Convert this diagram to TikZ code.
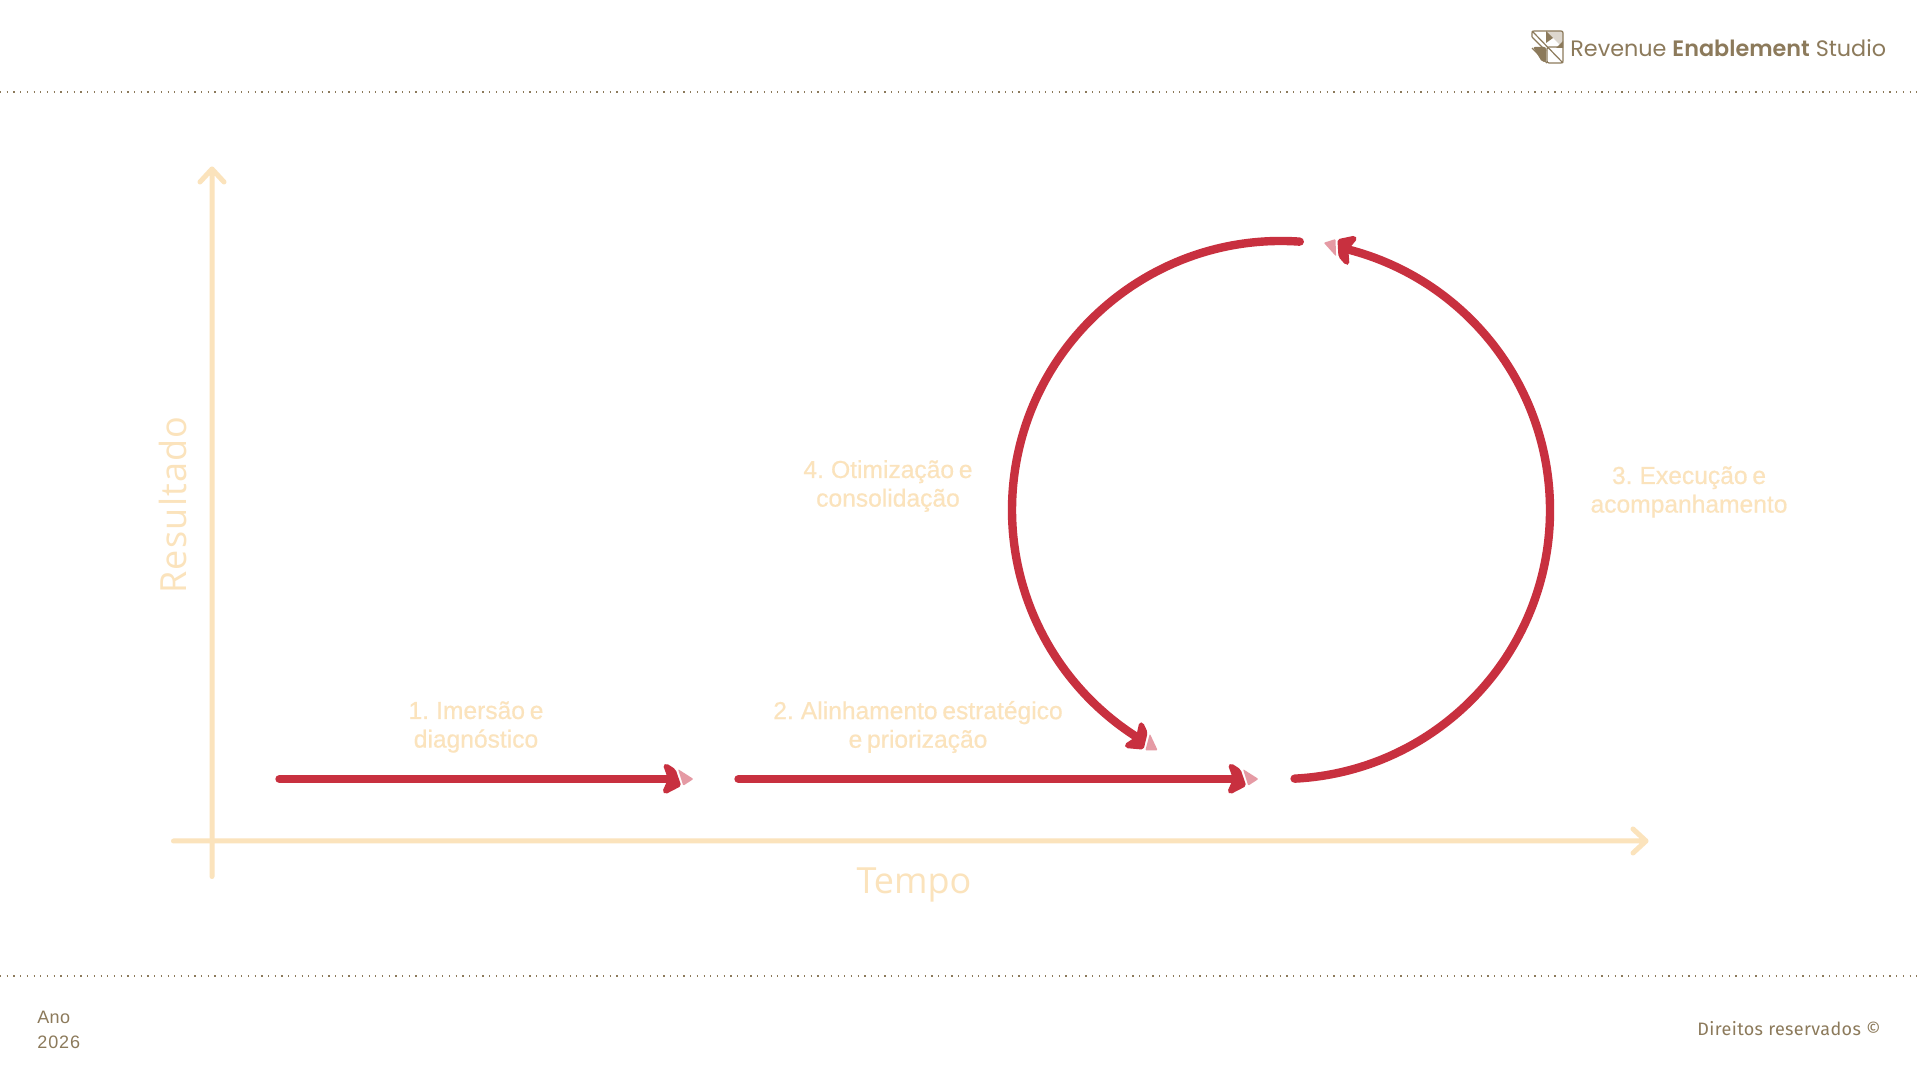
\documentclass[tikz,border=0pt]{standalone}
\usepackage{fontspec}
\usetikzlibrary{calc}
\setmainfont{Liberation Sans}
\newfontfamily\stepfont[WordSpace=0.7,FakeBold=0.5]{Liberation Sans}
\newfontfamily\logofont[BoldFont={Poppins SemiBold}]{Poppins}
\newfontfamily\titlefont{Open Sans}
\newfontfamily\footfont[LetterSpace=2]{Fira Sans}
\definecolor{beige}{HTML}{FBE3BC}
\definecolor{crimson}{HTML}{C8303F}
\definecolor{pinkred}{HTML}{E59AA4}
\definecolor{brownish}{HTML}{8C7A5B}
\tikzset{
  axisline/.style={draw=beige,line width=2.5pt,line cap=round,line join=round},
  redline/.style={draw=crimson,line width=4.2pt,line cap=round},
  dotrule/.style={draw=brownish,line width=0.55pt,dash pattern=on 0.6pt off 2.75pt},
  steplabel/.style={text=beige,font=\stepfont\fontsize{12.3}{14.3}\selectfont,align=center},
  axislabel/.style={text=beige,font=\titlefont\fontsize{18}{20}\selectfont},
  pics/tiphead/.style={code={
    \fill[crimson,rounded corners=1pt] (-5,14) -- (-1.7,15.7) -- (7.6,9.7) -- (13.3,-7) -- (-2.7,-15.3) -- (-5.7,-12.7) -- (0,0) -- cycle;
    \fill[pinkred,rounded corners=0.5pt] (10,9.9) -- (25.5,0) -- (15.2,-6.7) -- cycle;
  }}
}
\begin{document}
\begin{tikzpicture}[x=0.5pt,y=0.5pt]
\useasboundingbox (0,0) rectangle (1920,1080);
\fill[white] (0,0) rectangle (1920,1080);
% rules
\coordinate (ruleAa) at (0,988); \coordinate (ruleAb) at (1920,988);
\coordinate (ruleBa) at (0,104); \coordinate (ruleBb) at (1920,104);
\draw[dotrule] (ruleAa) -- (ruleAb);
\draw[dotrule] (ruleBa) -- (ruleBb);
% logo
\begin{scope}[shift={(1532,1017)}]
  \fill[brownish!30] (14,32) -- (31,32) -- (31,15) -- cycle;
  \fill[brownish] (14,32) -- (21,25) -- (14,20) -- cycle;
  \fill[brownish] (31,15) -- (24,15) -- (31,22) -- cycle;
  \draw[brownish,line width=0.6pt,rounded corners=1pt] (0,26) -- (0,32) -- (31,32) -- (31,0) -- (15,0) -- (15,16) -- (31,16);
  \draw[brownish,line width=0.6pt] (0,32) -- (31,0) (0,26) -- (14,12) (15,0) -- (0,15);
  \fill[brownish,rounded corners=1pt] (1,16) -- (14,16) -- (14,1) -- (10,1) -- cycle;
\end{scope}
\node[anchor=west,text=brownish,font=\logofont\fontsize{11.15}{14}\selectfont,inner sep=0] (logo) at (1570,1032) {Revenue \textbf{Enablement} Studio};
% footer
\node[anchor=west,text=brownish,font=\fontsize{9}{12.3}\selectfont,align=left,inner sep=0] (year) at (37,50) {\addfontfeature{LetterSpace=2}Ano\\\addfontfeature{LetterSpace=5}2026};
\node[anchor=east,text=brownish,font=\footfont\fontsize{9}{11}\selectfont,inner sep=0] (rights) at (1881,51) {Direitos reservados ©};
% axes
\coordinate (yS) at (212,203.5); \coordinate (yT) at (212,911);
\coordinate (xS) at (173.5,239); \coordinate (xT) at (1646,239);
\draw[axisline] (yS) -- (yT) (200,898) -- (yT) -- (224,898);
\draw[axisline] (xS) -- (xT) (1633,251) -- (xT) -- (1633,227);
\node[axislabel,rotate=90] (res) at (173,575) {\addfontfeature{LetterSpace=3.4}Resultado};
\node[axislabel] (tmp) at (914,195) {Tempo};
% step labels
\node[steplabel] (l1) at (476,353) {1. Imersão e\\diagnóstico};
\node[steplabel] (l2) at (918,353) {2. Alinhamento estratégico\\e priorização};
\node[steplabel] (l3) at (1689,588) {3. Execução e\\acompanhamento};
\node[steplabel] (l4) at (888,594) {4. Otimização e\\consolidação};
% arrows
\coordinate (a1s) at (279.5,301); \coordinate (a1e) at (668,301);
\coordinate (a2s) at (738.5,301); \coordinate (a2e) at (1233,301);
\draw[redline] (a1s) -- (a1e);
\pic at (a1e) {tiphead};
\draw[redline] (a2s) -- (a2e);
\pic at (a2e) {tiphead};
\coordinate (c) at (1281,570);
\draw[redline] ($(c)+(-87.1:269)$) arc[start angle=-87.1,end angle=75.5,radius=269];
\pic[rotate=164.5] at ($(c)+(75.5:269)$) {tiphead};
\draw[redline] ($(c)+(86:269)$) arc[start angle=86,end angle=237.4,radius=269];
\pic[rotate=-32.4] at ($(c)+(237.4:269)$) {tiphead};
\end{tikzpicture}
\end{document}
